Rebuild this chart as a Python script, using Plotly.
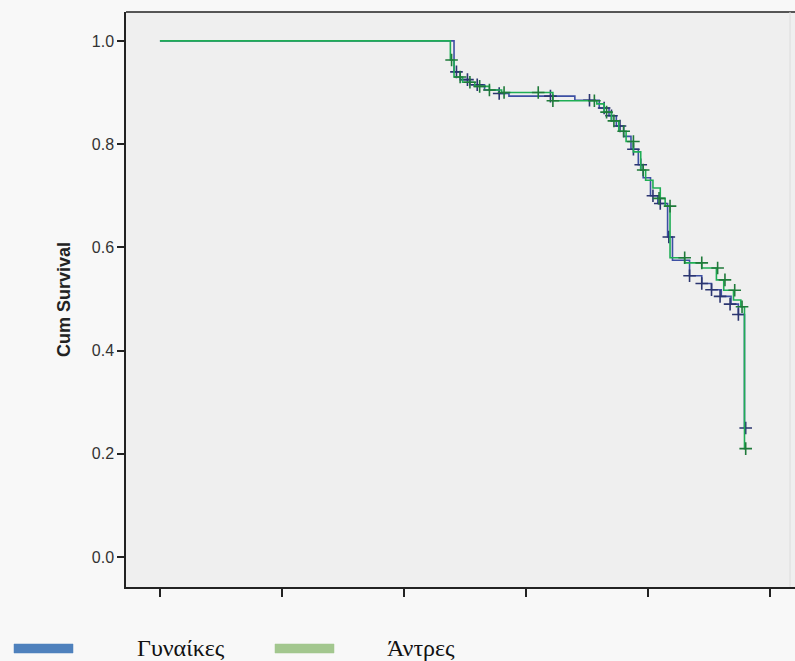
import plotly.graph_objects as go

# ---- data ----
series_names = ["Γυναίκες", "Άντρες"]

# Γυναίκες (women) step curve
t_women = [0, 120.5, 123, 127, 133, 139, 143, 170, 180, 184, 187, 190, 193, 196, 198, 201, 204, 208, 210, 217, 222, 226, 230, 234, 237, 239.5, 240]
s_women = [1.0, 0.94, 0.925, 0.915, 0.905, 0.898, 0.893, 0.885, 0.870, 0.855, 0.835, 0.815, 0.790, 0.760, 0.735, 0.700, 0.685, 0.620, 0.575, 0.545, 0.530, 0.518, 0.505, 0.490, 0.470, 0.25, 0.25]
cens_t_women = [121.5, 126, 130, 139, 160, 176, 182, 185, 188.5, 194, 197, 202, 205, 208.5, 217, 222, 226, 229.5, 233.6, 237, 240]
cens_s_women = [0.94, 0.925, 0.915, 0.898, 0.893, 0.885, 0.870, 0.855, 0.835, 0.790, 0.760, 0.700, 0.685, 0.620, 0.545, 0.530, 0.518, 0.505, 0.490, 0.470, 0.25]

# Άντρες (men) step curve
t_men = [0, 119, 120.5, 124, 129, 135, 140, 161, 179, 182, 185, 188, 191, 194, 197, 199, 202, 205, 207, 209, 215, 222, 228, 231, 235, 238, 239.5, 240]
s_men = [1.0, 0.963, 0.930, 0.920, 0.912, 0.905, 0.900, 0.884, 0.878, 0.862, 0.845, 0.825, 0.805, 0.785, 0.750, 0.730, 0.715, 0.695, 0.680, 0.580, 0.570, 0.560, 0.537, 0.517, 0.498, 0.485, 0.21, 0.21]
cens_t_men = [119.5, 123, 127, 131, 135, 141, 155, 161, 178, 183, 186, 190, 194, 198, 204.5, 209, 215, 222, 228.5, 231.5, 235.5, 238.5, 240]
cens_s_men = [0.963, 0.930, 0.920, 0.912, 0.905, 0.900, 0.900, 0.884, 0.884, 0.862, 0.845, 0.825, 0.805, 0.750, 0.695, 0.680, 0.580, 0.570, 0.560, 0.537, 0.517, 0.485, 0.21]

x_ticks = [0, 50, 100, 150, 200, 250]
y_ticks = [0.0, 0.2, 0.4, 0.6, 0.8, 1.0]
y_tick_labels = ["0.0", "0.2", "0.4", "0.6", "0.8", "1.0"]

line_colors = ["#3d4fa3", "#1fae55"]
marker_colors = ["#2b3570", "#1f7a3a"]
legend_colors = ["#4f81bd", "#a3c78f"]

fig = go.Figure()

curves = [(t_women, s_women, cens_t_women, cens_s_women), (t_men, s_men, cens_t_men, cens_s_men)]
for i, (tt, ss, ct, cs) in enumerate(curves):
    fig.add_trace(go.Scatter(x=tt, y=ss, mode="lines", line=dict(color=line_colors[i], width=1.6, shape="hv"),
                             name=series_names[i], showlegend=False, hoverinfo="skip"))
    fig.add_trace(go.Scatter(x=ct, y=cs, mode="markers",
                             marker=dict(symbol="cross-thin", size=9, line=dict(color=marker_colors[i], width=1.6)),
                             showlegend=False, hoverinfo="skip"))

fig.update_xaxes(range=[-13.9, 260.2], tickvals=x_ticks, showticklabels=False, ticks="outside", ticklen=8,
                 tickcolor="#222", tickwidth=1.5, showline=True, linecolor="#222", linewidth=1.5,
                 showgrid=False, zeroline=False)
fig.update_yaxes(range=[-0.058, 1.056], tickvals=y_ticks, ticktext=y_tick_labels, ticks="outside", ticklen=7,
                 tickcolor="#222", tickwidth=1.5, showline=True, linecolor="#222", linewidth=1.5,
                 showgrid=False, zeroline=False, tickfont=dict(family="Liberation Sans, Arial", size=16, color="#333"),
                 title=dict(text="<b>Cum Survival</b>", font=dict(family="Liberation Sans, Arial", size=18, color="#222"),
                            standoff=16))

px = lambda v: (v - 126) / (795 - 126)
py = lambda v: (587 - v) / (587 - 12)

# top border and faint right border
fig.add_shape(type="line", xref="paper", yref="paper", x0=0, x1=1, y0=1, y1=1, line=dict(color="#222", width=1.5))
fig.add_shape(type="line", xref="paper", yref="paper", x0=px(790), x1=px(790), y0=0, y1=1, line=dict(color="#dcdcdc", width=1))

# custom legend below the plot
leg_rect_x = [(14, 73), (275, 334)]
leg_text_x = [135, 385]
for i in range(2):
    x0, x1 = leg_rect_x[i]
    fig.add_shape(type="rect", xref="paper", yref="paper", x0=px(x0), x1=px(x1), y0=py(653), y1=py(644),
                  line=dict(width=0.5, color=legend_colors[i]), fillcolor=legend_colors[i])
    fig.add_annotation(xref="paper", yref="paper", x=px(leg_text_x[i]), y=py(648), xanchor="left", yanchor="middle",
                       text=series_names[i], showarrow=False,
                       font=dict(family="Liberation Serif, Times New Roman", size=24, color="#111"))

fig.update_layout(width=795, height=661, margin=dict(l=126, r=0, t=12, b=74),
                  paper_bgcolor="#f8f8f8", plot_bgcolor="#efefef", showlegend=False)

fig.write_html("out.html")
